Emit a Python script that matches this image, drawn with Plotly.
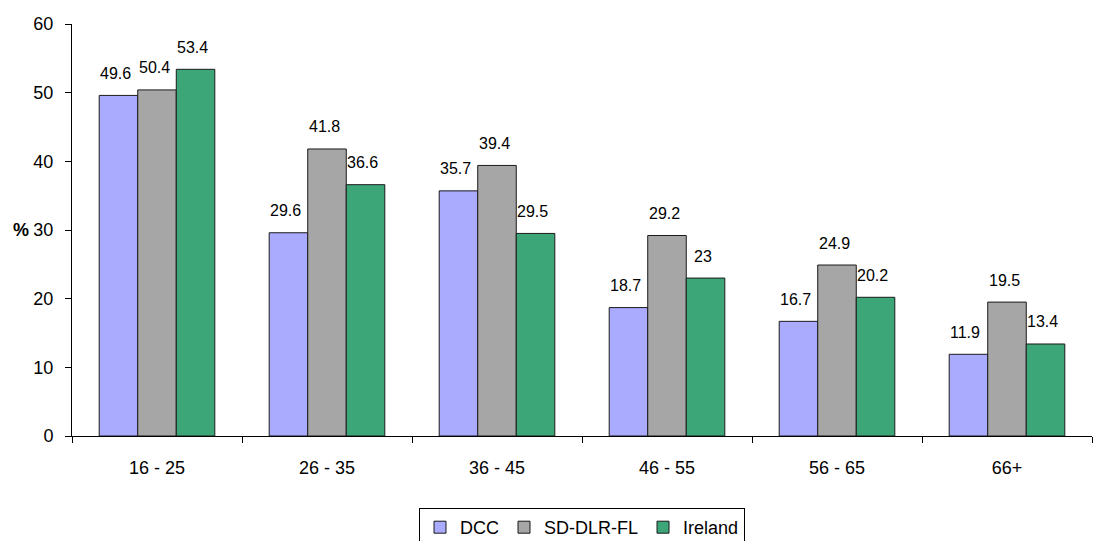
import plotly.graph_objects as go

# Age bands and percentage values per area
age_groups = ["16 - 25", "26 - 35", "36 - 45", "46 - 55", "56 - 65", "66+"]
dcc = [49.6, 29.6, 35.7, 18.7, 16.7, 11.9]
sd_dlr_fl = [50.4, 41.8, 39.4, 29.2, 24.9, 19.5]
ireland = [53.4, 36.6, 29.5, 23, 20.2, 13.4]
y_ticks = [0, 10, 20, 30, 40, 50, 60]

series = [
    ("DCC", dcc, "#aaaaff"),
    ("SD-DLR-FL", sd_dlr_fl, "#a6a6a6"),
    ("Ireland", ireland, "#3da678"),
]

FONT = "Liberation Sans, Arial, sans-serif"
W, H = 1099, 541
M_L, M_R, M_T, M_B = 72, 7, 24, 105
BARGAP = 0.32

fig = go.Figure()
for name, vals, color in series:
    fig.add_trace(go.Bar(
        x=age_groups, y=vals, name=name,
        marker=dict(color=color, line=dict(color="#1a1a1a", width=1)),
        hoverinfo="x+y+name",
    ))

# value labels placed above each bar within its group
cat_px = (W - M_L - M_R) / len(age_groups)
bar_px = cat_px * (1 - BARGAP) / len(series)
for i, (name, vals, color) in enumerate(series):
    offset = (i - (len(series) - 1) / 2) * bar_px
    for cat, v in zip(age_groups, vals):
        fig.add_annotation(
            x=cat, y=v, xref="x", yref="y", text=f"{v:g}", showarrow=False,
            xshift=offset - 3, yshift=22, yanchor="middle",
            font=dict(family=FONT, size=16, color="#000"),
        )

# axis title next to the 30 tick
fig.add_annotation(
    xref="paper", yref="y", x=0, y=30, xshift=-51, text="<b>%</b>",
    showarrow=False, xanchor="center", yanchor="middle",
    font=dict(family=FONT, size=18, color="#000"),
)

plot_h = H - M_T - M_B
fig.update_layout(
    width=W, height=H,
    margin=dict(l=M_L, r=M_R, t=M_T, b=M_B, pad=0, autoexpand=False),
    paper_bgcolor="white", plot_bgcolor="white",
    barmode="group", bargap=BARGAP, bargroupgap=0,
    font=dict(family=FONT, size=18, color="#000"),
    showlegend=True,
    legend=dict(
        orientation="h", x=0.5, xanchor="center",
        y=-(508 - (H - M_B)) / plot_h, yanchor="top",
        bordercolor="#000", borderwidth=1, bgcolor="white",
        font=dict(family=FONT, size=18, color="#000"),
        itemwidth=30, tracegroupgap=0,
    ),
    xaxis=dict(
        type="category", showgrid=False, zeroline=False,
        showline=True, linecolor="#000", linewidth=1,
        ticks="outside", tickson="boundaries", ticklen=6, tickcolor="#000",
        ticklabelstandoff=15,
        tickfont=dict(family=FONT, size=18, color="#000"),
    ),
    yaxis=dict(
        range=[0, 60], tickvals=y_ticks, showgrid=False, zeroline=False,
        showline=True, linecolor="#000", linewidth=1,
        ticks="outside", ticklen=6, tickcolor="#000",
        ticklabelstandoff=8,
        tickfont=dict(family=FONT, size=18, color="#000"),
    ),
)

fig.write_html("out.html")
